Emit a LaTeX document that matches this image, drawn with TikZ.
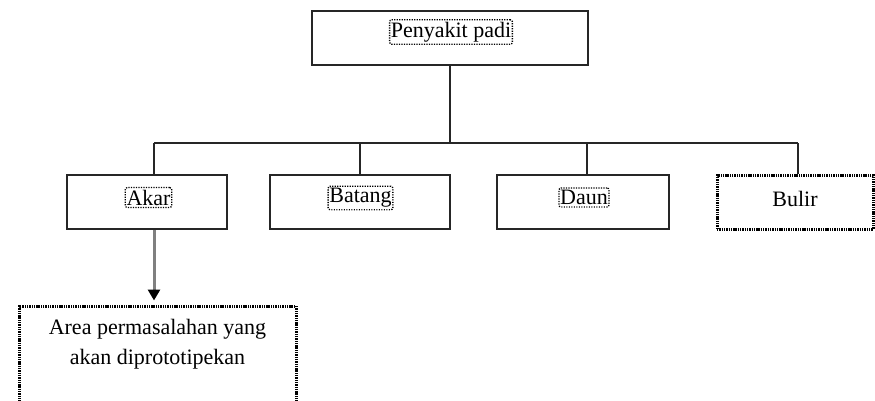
\documentclass[tikz,border=0pt]{standalone}
\usepackage{fontspec}
\setmainfont{Liberation Serif}
\usetikzlibrary{arrows.meta, positioning}

\tikzset{
	box/.style={draw=black!85, line width=2pt, inner sep=0pt, minimum height=54pt},
	dotbox/.style={box, draw=black, dash pattern=on 1.4pt off 0.9pt, line width=3pt},
	lbl/.style={draw, dash pattern=on 1.2pt off 1.3pt, line width=1.3pt, rounded corners=2pt, inner xsep=1.2pt, inner ysep=2.2pt, font=\fontsize{22}{30}\selectfont},
	txt/.style={inner sep=0pt, align=center, font=\fontsize{22}{30}\selectfont},
	link/.style={draw=black!85, line width=2pt},
}

\begin{document}
\begin{tikzpicture}[x=1pt, y=-1pt]
		\useasboundingbox (0,0) rectangle (875,400);
		\clip (0,0) rectangle (875,400);
		
		\node[box, minimum width=276pt] (padi) at (450, 38) {};
		\node[box, minimum width=160pt] (akar) at (147, 202) {};
		\node[box, minimum width=180pt] (batang) at (360, 202) {};
		\node[box, minimum width=172pt] (daun) at (583, 202) {};
		\node[dotbox, minimum width=156pt] (bulir) at (795, 202) {};
		\node[dotbox, minimum width=277pt, minimum height=120pt] (area) at (157.5, 366) {};
		
		\node[lbl] (padilbl) at (451, 32) {Penyakit padi};
		\node[lbl] (akarlbl) at (148.5, 197.5) {Akar};
		\node[lbl] (batanglbl) at (360.5, 198) {Batang};
		\node[lbl] (daunlbl) at (584, 197.5) {Daun};
		\node[txt] (bulirtxt) at (795, 199) {Bulir};
		\node[txt] (areatxt) at (157.5, 344) {Area permasalahan yang\\akan diprototipekan};
		
		\coordinate (hl) at (154, 143);
		\coordinate (hr) at (798, 143);
		
		\path[link] (padi.south) -- (padi.south |- hl)
			(hl) -- (hr)
			(hl) -- (hl |- akar.north)
			(batang.north) -- (batang.north |- hl)
			([xshift=4pt]daun.north) -- ([xshift=4pt]daun.north |- hl) % off centre
			(hr) -- (hr |- bulir.north);
		
		\draw[draw=black!50, line width=3pt, -{Triangle[black, length=11pt, width=12pt]}, shorten >=4pt]
			(hl |- akar.south) -- (hl |- area.north);
	\end{tikzpicture}
\end{document}
